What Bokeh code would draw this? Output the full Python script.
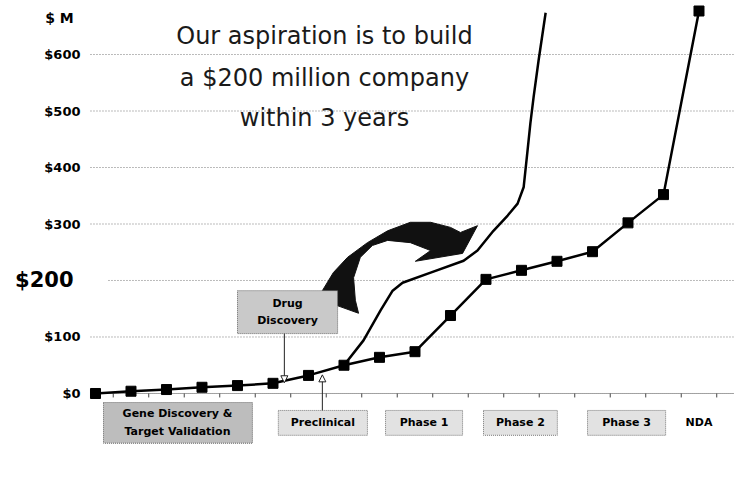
from bokeh.plotting import figure
from bokeh.models import Arrow, NormalHead, Range1d, Span
from bokeh.embed import file_html
from bokeh.resources import INLINE
from bokeh.core.properties import value

# ---- data ----
stage_idx = list(range(18))
cost = [0, 4, 7, 11, 14, 18, 32, 50, 64, 74, 138, 202, 218, 234, 251, 302, 352, 677]
fast_x = [7.0, 7.55, 8.03, 8.37, 8.65, 9.44, 10.37, 10.76, 11.21, 11.61, 11.89, 12.06, 12.17, 12.25, 12.34, 12.48, 12.68]
fast_y = [50, 94, 147, 182, 196, 214, 235, 253, 288, 315, 336, 365, 430, 478, 524, 589, 674]
y_ticks = [0, 100, 300, 400, 500, 600]
y_tick_labels = ["$0", "$100", "$300", "$400", "$500", "$600"]
target_value = 200
target_label = "$200"
unit_label = "$ M"
phase_names = ["Preclinical", "Phase 1", "Phase 2", "Phase 3"]
gene_lines = ["Gene Discovery &", "Target Validation"]
drug_lines = ["Drug", "Discovery"]
title_lines = ["Our aspiration is to build", "a $200 million company", "within 3 years"]

# ---- layout (positions / styles) ----
phase_left = [5.15, 8.17, 10.93, 13.86]
phase_right = [7.66, 10.34, 13.01, 16.06]
X_LEFT = -0.141      # where the plotting area starts
X_RIGHT = 18.0
FONT = value("DejaVu Sans")

p = figure(width=734, height=487, output_backend="svg", toolbar_location=None,
           x_range=Range1d(-2.676, X_RIGHT), y_range=Range1d(-166.4, 695.6),
           x_axis_location=None, y_axis_location=None,
           min_border_left=0, min_border_right=0, min_border_top=0, min_border_bottom=0)
p.outline_line_color = None
p.background_fill_color = "white"
p.border_fill_color = "white"
p.grid.visible = False

# gridlines
p.segment(x0=[X_LEFT] * (len(y_ticks) - 1), y0=y_ticks[1:], x1=[X_RIGHT] * (len(y_ticks) - 1), y1=y_ticks[1:],
          line_color="#777777", line_dash="1 2", line_width=1)
p.segment(x0=[0.366], y0=[target_value], x1=[X_RIGHT], y1=[target_value],
          line_color="#777777", line_dash="1 2", line_width=1)

# tick labels
p.text(x=[-0.423] * len(y_ticks), y=y_ticks, text=y_tick_labels, text_align="right", text_baseline="middle",
       text_font=FONT, text_font_style="bold", text_font_size="13px", text_color="black")
p.text(x=[-0.62], y=[target_value], text=[target_label], text_align="right", text_baseline="middle",
       text_font=FONT, text_font_style="bold", text_font_size="21px", text_color="black")
p.text(x=[-1.014], y=[665], text=[unit_label], text_align="center", text_baseline="middle",
       text_font=FONT, text_font_style="bold", text_font_size="14px", text_color="black")

# baseline with ticks between stages
p.segment(x0=[X_LEFT], y0=[0], x1=[X_RIGHT], y1=[0], line_color="#444444", line_dash="1 1", line_width=1)
tick_x = [i + 0.5 for i in stage_idx]
p.segment(x0=tick_x, y0=[0] * len(tick_x), x1=tick_x, y1=[-7] * len(tick_x), line_color="#444444", line_width=1)

# big curved arrow (decoration)
arrow_x = [6.39, 6.70, 7.10, 7.66, 8.23, 8.87, 9.44, 10.0, 10.28, 10.76, 10.34, 9.01, 9.44, 8.87, 8.23, 7.80, 7.46, 7.27, 7.32, 7.41, 6.79, 6.39]
arrow_y = [182, 214, 241, 267, 288, 303, 303, 294, 285, 297, 248, 234, 253, 267, 271, 262, 241, 205, 165, 142, 156, 179]
p.patch(arrow_x, arrow_y, fill_color="#111111", line_color="#111111", line_width=1)

# series
p.line(fast_x, fast_y, line_color="black", line_width=2.5)
p.line(stage_idx, cost, line_color="black", line_width=2.5)
p.scatter(stage_idx, cost, marker="square", size=10, fill_color="black", line_color="black")

# Drug discovery box + arrow
p.quad(left=[4.0], right=[6.82], top=[182], bottom=[106], fill_color="#c9c9c9",
       line_color="#666666", line_dash="1 1", line_width=1)
p.text(x=[5.41, 5.41], y=[159, 129], text=drug_lines, text_align="center", text_baseline="middle",
       text_font=FONT, text_font_style="bold", text_font_size="11px", text_color="black")
p.add_layout(Arrow(x_start=5.32, y_start=106, x_end=5.32, y_end=19, line_width=1, line_color="#222222",
                   end=NormalHead(size=7, fill_color="white", line_color="#222222", line_width=1)))
p.add_layout(Arrow(x_start=6.39, y_start=-30, x_end=6.39, y_end=33, line_width=1, line_color="#222222",
                   end=NormalHead(size=7, fill_color="white", line_color="#222222", line_width=1)))

# stage boxes
p.quad(left=[0.225], right=[4.42], top=[-16], bottom=[-88], fill_color="#bdbdbd",
       line_color="#666666", line_dash="1 1", line_width=1)
p.text(x=[2.31, 2.31], y=[-35, -67], text=gene_lines, text_align="center", text_baseline="middle",
       text_font=FONT, text_font_style="bold", text_font_size="11px", text_color="black")
p.quad(left=phase_left, right=phase_right, top=[-30] * 4, bottom=[-74] * 4, fill_color="#e2e2e2",
       line_color="#777777", line_dash="1 1", line_width=1)
p.text(x=[(a + b) / 2 for a, b in zip(phase_left, phase_right)], y=[-51] * 4, text=phase_names,
       text_align="center", text_baseline="middle", text_font=FONT, text_font_style="bold",
       text_font_size="11px", text_color="black")
p.text(x=[17], y=[-51], text=["NDA"], text_align="center", text_baseline="middle", text_font=FONT,
       text_font_style="bold", text_font_size="11px", text_color="black")

# title
p.text(x=[6.45] * 3, y=[632, 559, 487], text=title_lines, text_align="center", text_baseline="alphabetic",
       text_font=FONT, text_font_size="24px", text_color="#1a1a1a")

open("out.html", "w").write(file_html(p, INLINE))
